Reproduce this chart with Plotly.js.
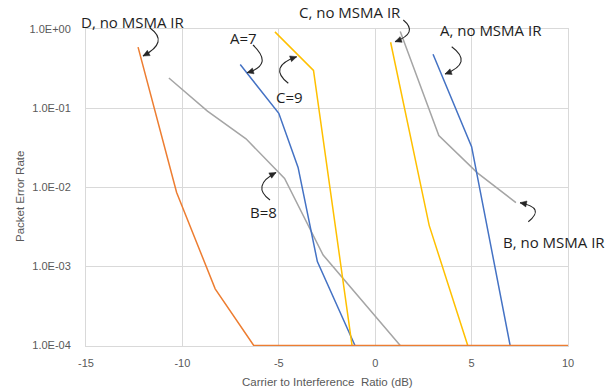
<!DOCTYPE html>
<html>
<head>
<meta charset="utf-8">
<script src="https://cdn.plot.ly/plotly-3.0.1.min.js"></script>
<style>html,body{margin:0;padding:0;background:#fff;}#chart{width:613px;height:391px;}</style>
</head>
<body>
<div id="chart"></div>
<script>
// ---- data ----
const xTicks = [-15, -10, -5, 0, 5, 10];
const xTickText = ["-15", "-10", "-5", "0", "5", "10"];
const yTicks = [1e-4, 1e-3, 1e-2, 1e-1, 1];
const yTickText = ["1.0E-04", "1.0E-03", "1.0E-02", "1.0E-01", "1.0E+00"];

const a7X = [-7, -5, -4, -3, -1.05];
const a7Y = [0.355, 0.086, 0.0178, 0.00115, 0.0001];
const c9X = [-5.2, -3.2, -1.2];
const c9Y = [0.92, 0.30, 0.0001];
const b8X = [-10.7, -8.7, -6.7, -4.7, -2.7, 1.3];
const b8Y = [0.24, 0.0916, 0.041, 0.0129, 0.00139, 0.0001];
const aNoX = [3, 5, 7];
const aNoY = [0.48, 0.0326, 0.0001];
const cNoX = [0.8, 2.8, 4.8];
const cNoY = [0.68, 0.0033, 0.0001];
const bNoX = [1.3, 3.3, 5.3, 7.3];
const bNoY = [0.93, 0.045, 0.0152, 0.0064];
const dNoX = [-12.3, -10.3, -8.3, -6.3, 10];
const dNoY = [0.59, 0.0086, 0.00052, 0.0001, 0.0001];

const labels = ["A=7", "C=9", "B=8", "A, no MSMA IR", "C, no MSMA IR", "B, no MSMA IR", "D, no MSMA IR"];

// ---- styling / layout ----
const BLUE = "#4472C4", ORANGE = "#ED7D31", GRAY = "#A5A5A5", GOLD = "#FFC000";
const L = 86, T = 29, W = 482, H = 317;
function pp(px, py) { return [(px - L) / W, (T + H - py) / H]; }

function line(x, y, color, name) {
  return { x: x, y: y, type: "scatter", mode: "lines", name: name,
           line: { color: color, width: 1.5 }, hoverinfo: "skip" };
}
const traces = [
  line(b8X, b8Y, GRAY, "B=8"),
  line(bNoX, bNoY, GRAY, "B, no MSMA IR"),
  line(a7X, a7Y, BLUE, "A=7"),
  line(aNoX, aNoY, BLUE, "A, no MSMA IR"),
  line(c9X, c9Y, GOLD, "C=9"),
  line(cNoX, cNoY, GOLD, "C, no MSMA IR"),
  line(dNoX, dNoY, ORANGE, "D, no MSMA IR")
];

// label text centres (px) and curved arrow: start, control, end (px)
const labelPos = [[243, 38], [289, 97], [263, 212], [491, 30], [350, 12], [554, 242], [133, 22]];
const arrowGeo = [
  [[253, 45], [274, 65], [247, 72.7]],
  [[288.3, 83.3], [267.5, 66.6], [296.7, 56.7]],
  [[270, 200], [251, 185.8], [276, 172.5]],
  [[451.7, 46.7], [473.7, 63], [445, 74]],
  [[403.3, 20], [419, 33], [395, 41.7]],
  [[528.3, 221.7], [545.9, 207.8], [520, 202.7]],
  [[150, 28], [169.5, 42], [143, 56]]
];

const annFont = { family: "Open Sans, Noto Sans, sans-serif", size: 15, color: "#1e1e1e" };
const annotations = labels.map((t, i) => {
  const p = pp(labelPos[i][0], labelPos[i][1]);
  return { text: t, xref: "paper", yref: "paper", x: p[0], y: p[1],
           xanchor: "center", yanchor: "middle", showarrow: false, font: annFont };
});
annotations.push({ text: "Carrier to Interference  Ratio (dB)", xref: "paper", yref: "paper",
  x: pp(327, 381.5)[0], y: pp(327, 381.5)[1], xanchor: "center", yanchor: "middle", showarrow: false,
  font: { family: "Liberation Sans, Arial, sans-serif", size: 11.5, color: "#595959" } });
annotations.push({ text: "Packet Error Rate", xref: "paper", yref: "paper", textangle: -90,
  x: pp(20, 197)[0], y: pp(20, 197)[1], xanchor: "center", yanchor: "middle", showarrow: false,
  font: { family: "Liberation Sans, Arial, sans-serif", size: 11.5, color: "#595959" } });

const shapes = [];
arrowGeo.forEach(g => {
  const [S, C, E] = g;
  const s = pp(S[0], S[1]), c = pp(C[0], C[1]), e = pp(E[0], E[1]);
  shapes.push({ type: "path", xref: "paper", yref: "paper",
    path: `M ${s[0]} ${s[1]} Q ${c[0]} ${c[1]} ${e[0]} ${e[1]}`,
    line: { color: "#262626", width: 1.1 }, fillcolor: "rgba(0,0,0,0)" });
  // arrowhead in px, along end tangent
  let dx = E[0] - C[0], dy = E[1] - C[1];
  const len = Math.hypot(dx, dy); dx /= len; dy /= len;
  const hl = 6.5, hw = 3;
  const bx = E[0] - dx * hl, by = E[1] - dy * hl;
  const p1 = pp(E[0], E[1]);
  const p2 = pp(bx - dy * hw, by + dx * hw);
  const p3 = pp(bx + dy * hw, by - dx * hw);
  shapes.push({ type: "path", xref: "paper", yref: "paper",
    path: `M ${p1[0]} ${p1[1]} L ${p2[0]} ${p2[1]} L ${p3[0]} ${p3[1]} Z`,
    line: { color: "#262626", width: 0.5 }, fillcolor: "#262626" });
});

const tickFont = { family: "Liberation Sans, Arial, sans-serif", size: 11, color: "#595959" };
const layout = {
  width: 613, height: 391,
  margin: { l: L, r: 613 - L - W, t: T, b: 391 - T - H, pad: 0 },
  paper_bgcolor: "#ffffff", plot_bgcolor: "#ffffff",
  showlegend: false,
  xaxis: { range: [-15, 10], tickvals: xTicks, ticktext: xTickText, showgrid: true,
           gridcolor: "#d9d9d9", gridwidth: 1, zeroline: false, showline: true, linecolor: "#d9d9d9",
           mirror: true, ticks: "", tickfont: tickFont, ticklabelstandoff: 7 },
  yaxis: { type: "log", range: [-4.006, 0], tickvals: yTicks, ticktext: yTickText, showgrid: true,
           gridcolor: "#d9d9d9", gridwidth: 1, zeroline: false, showline: true, linecolor: "#d9d9d9",
           mirror: true, ticks: "", tickfont: tickFont, ticklabelstandoff: 12 },
  annotations: annotations,
  shapes: shapes
};

Plotly.newPlot("chart", traces, layout, { staticPlot: true, displayModeBar: false });
</script>
</body>
</html>
